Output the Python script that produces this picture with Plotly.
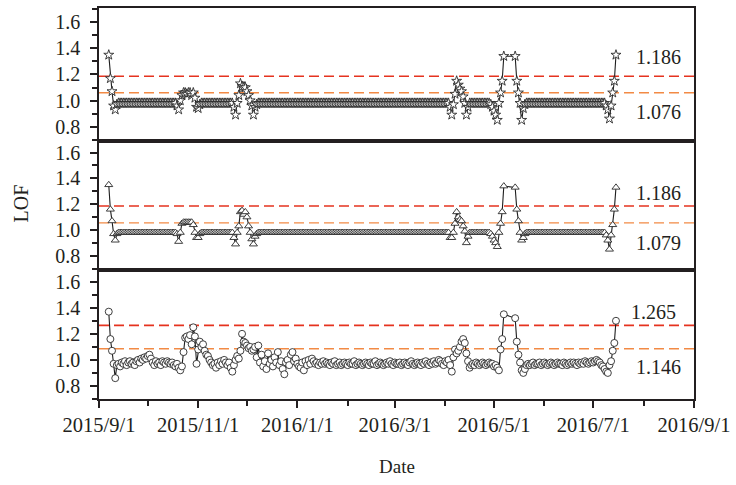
import pandas as pd
import plotly.graph_objects as go
from plotly.subplots import make_subplots

# ---------------- data ----------------
start_date = "2015-09-07"
end_date = "2016-07-15"
gap_first, gap_last = "2016-05-08", "2016-05-13"   # days without records

lof_star = [
    1.35, 1.17, 1.07, 0.96, 0.93, 0.97, 0.98, 0.98, 0.98, 0.98,
    0.98, 0.98, 0.98, 0.98, 0.98, 0.98, 0.98, 0.98, 0.98, 0.98,
    0.98, 0.98, 0.98, 0.98, 0.98, 0.98, 0.98, 0.98, 0.98, 0.98,
    0.98, 0.98, 0.98, 0.98, 0.98, 0.98, 0.98, 0.98, 0.98, 0.98,
    0.98, 0.98, 0.96, 0.93, 1.00, 1.04, 1.06, 1.06, 1.05, 1.06,
    1.06, 1.04, 1.06, 1.02, 0.95, 0.94, 0.97, 0.98, 0.98, 0.98,
    0.98, 0.98, 0.98, 0.98, 0.98, 0.98, 0.98, 0.98, 0.98, 0.98,
    0.98, 0.98, 0.98, 0.98, 0.98, 0.98, 0.98, 0.95, 0.89, 0.98,
    1.04, 1.13, 1.11, 1.10, 1.10, 1.07, 1.04, 1.00, 0.96, 0.89,
    0.95, 0.97, 0.98, 0.98, 0.98, 0.98, 0.98, 0.98, 0.98, 0.98,
    0.98, 0.98, 0.98, 0.98, 0.98, 0.98, 0.98, 0.98, 0.98, 0.98,
    0.98, 0.98, 0.98, 0.98, 0.98, 0.98, 0.98, 0.98, 0.98, 0.98,
    0.98, 0.98, 0.98, 0.98, 0.98, 0.98, 0.98, 0.98, 0.98, 0.98,
    0.98, 0.98, 0.98, 0.98, 0.98, 0.98, 0.98, 0.98, 0.98, 0.98,
    0.98, 0.98, 0.98, 0.98, 0.98, 0.98, 0.98, 0.98, 0.98, 0.98,
    0.98, 0.98, 0.98, 0.98, 0.98, 0.98, 0.98, 0.98, 0.98, 0.98,
    0.98, 0.98, 0.98, 0.98, 0.98, 0.98, 0.98, 0.98, 0.98, 0.98,
    0.98, 0.98, 0.98, 0.98, 0.98, 0.98, 0.98, 0.98, 0.98, 0.98,
    0.98, 0.98, 0.98, 0.98, 0.98, 0.98, 0.98, 0.98, 0.98, 0.98,
    0.98, 0.98, 0.98, 0.98, 0.98, 0.98, 0.98, 0.98, 0.98, 0.98,
    0.98, 0.98, 0.98, 0.98, 0.98, 0.98, 0.98, 0.98, 0.98, 0.98,
    0.95, 0.89, 0.97, 1.05, 1.15, 1.12, 1.09, 1.07, 1.03, 0.98,
    0.89, 0.95, 0.98, 0.98, 0.98, 0.98, 0.98, 0.98, 0.98, 0.98,
    0.98, 0.98, 0.98, 0.98, 0.98, 0.97, 0.95, 0.92, 0.89, 0.85,
    0.98, 1.06, 1.15, 1.34,
    1.34, 1.15, 1.06, 0.98, 0.85, 0.94, 0.97, 0.98, 0.98, 0.98,
    0.98, 0.98, 0.98, 0.98, 0.98, 0.98, 0.98, 0.98, 0.98, 0.98,
    0.98, 0.98, 0.98, 0.98, 0.98, 0.98, 0.98, 0.98, 0.98, 0.98,
    0.98, 0.98, 0.98, 0.98, 0.98, 0.98, 0.98, 0.98, 0.98, 0.98,
    0.98, 0.98, 0.98, 0.98, 0.98, 0.98, 0.98, 0.98, 0.98, 0.98,
    0.98, 0.98, 0.98, 0.98, 0.98, 0.98, 0.96, 0.93, 0.86, 0.96,
    1.06, 1.15, 1.35,
]

lof_triangle = [
    1.35, 1.16, 1.07, 0.97, 0.92, 0.97, 0.98, 0.98, 0.98, 0.98,
    0.98, 0.98, 0.98, 0.98, 0.98, 0.98, 0.98, 0.98, 0.98, 0.98,
    0.98, 0.98, 0.98, 0.98, 0.98, 0.98, 0.98, 0.98, 0.98, 0.98,
    0.98, 0.98, 0.98, 0.98, 0.98, 0.98, 0.98, 0.98, 0.98, 0.98,
    0.98, 0.98, 0.97, 0.91, 0.98, 1.05, 1.06, 1.06, 1.06, 1.06,
    1.06, 1.06, 1.04, 0.98, 0.94, 0.94, 0.97, 0.98, 0.98, 0.98,
    0.98, 0.98, 0.98, 0.98, 0.98, 0.98, 0.98, 0.98, 0.98, 0.98,
    0.98, 0.98, 0.98, 0.98, 0.98, 0.98, 0.98, 0.94, 0.89, 0.98,
    1.03, 1.14, 1.15, 1.12, 1.14, 1.10, 1.03, 0.98, 0.93, 0.89,
    0.95, 0.97, 0.98, 0.98, 0.98, 0.98, 0.98, 0.98, 0.98, 0.98,
    0.98, 0.98, 0.98, 0.98, 0.98, 0.98, 0.98, 0.98, 0.98, 0.98,
    0.98, 0.98, 0.98, 0.98, 0.98, 0.98, 0.98, 0.98, 0.98, 0.98,
    0.98, 0.98, 0.98, 0.98, 0.98, 0.98, 0.98, 0.98, 0.98, 0.98,
    0.98, 0.98, 0.98, 0.98, 0.98, 0.98, 0.98, 0.98, 0.98, 0.98,
    0.98, 0.98, 0.98, 0.98, 0.98, 0.98, 0.98, 0.98, 0.98, 0.98,
    0.98, 0.98, 0.98, 0.98, 0.98, 0.98, 0.98, 0.98, 0.98, 0.98,
    0.98, 0.98, 0.98, 0.98, 0.98, 0.98, 0.98, 0.98, 0.98, 0.98,
    0.98, 0.98, 0.98, 0.98, 0.98, 0.98, 0.98, 0.98, 0.98, 0.98,
    0.98, 0.98, 0.98, 0.98, 0.98, 0.98, 0.98, 0.98, 0.98, 0.98,
    0.98, 0.98, 0.98, 0.98, 0.98, 0.98, 0.98, 0.98, 0.98, 0.98,
    0.98, 0.98, 0.98, 0.98, 0.98, 0.98, 0.98, 0.98, 0.98, 0.98,
    0.94, 0.94, 0.98, 1.05, 1.14, 1.10, 1.08, 1.07, 1.03, 0.99,
    0.90, 0.95, 0.98, 0.98, 0.98, 0.98, 0.98, 0.98, 0.98, 0.98,
    0.98, 0.98, 0.98, 0.98, 0.98, 0.97, 0.95, 0.92, 0.90, 0.87,
    0.98, 1.05, 1.14, 1.34,
    1.33, 1.16, 1.07, 0.98, 0.92, 0.94, 0.97, 0.98, 0.98, 0.98,
    0.98, 0.98, 0.98, 0.98, 0.98, 0.98, 0.98, 0.98, 0.98, 0.98,
    0.98, 0.98, 0.98, 0.98, 0.98, 0.98, 0.98, 0.98, 0.98, 0.98,
    0.98, 0.98, 0.98, 0.98, 0.98, 0.98, 0.98, 0.98, 0.98, 0.98,
    0.98, 0.98, 0.98, 0.98, 0.98, 0.98, 0.98, 0.98, 0.98, 0.98,
    0.98, 0.98, 0.98, 0.98, 0.98, 0.98, 0.96, 0.92, 0.85, 0.96,
    1.04, 1.16, 1.33,
]

lof_circle = [
    1.37, 1.16, 1.07, 0.97, 0.86, 0.96, 0.97, 0.95, 0.98, 0.97,
    0.99, 0.96, 0.98, 0.99, 0.97, 0.98, 0.96, 0.99, 1.00, 0.98,
    1.01, 1.00, 1.02, 1.01, 1.03, 1.04, 1.01, 0.98, 0.96, 0.99,
    0.97, 0.98, 0.96, 0.99, 0.98, 0.97, 0.99, 0.98, 0.97, 0.98,
    0.96, 0.95, 0.97, 0.94, 0.92, 0.95, 1.06, 1.17, 1.18, 1.16,
    1.19, 1.12, 1.25, 1.18, 0.97, 1.08, 1.14, 1.10, 1.12, 1.07,
    1.04, 1.03, 1.00, 0.98, 0.96, 0.97, 0.94, 0.98, 0.96, 0.99,
    0.97, 1.00, 0.98, 0.96, 0.98, 0.94, 0.91, 0.96, 1.00, 1.03,
    1.01, 1.07, 1.20, 1.14, 1.13, 1.11, 1.09, 1.10, 1.07, 1.08,
    1.10, 1.02, 1.11, 0.98, 1.04, 0.95, 0.99, 0.93, 1.05, 0.97,
    1.00, 0.95, 1.02, 0.98, 1.06, 0.96, 0.99, 0.93, 0.89, 0.98,
    1.00, 0.96, 1.04, 1.06, 0.99, 1.01, 0.97, 0.95, 0.94, 0.98,
    0.92, 0.99, 0.96, 1.00, 0.97, 1.01, 0.99, 0.97, 0.98, 0.96,
    0.98, 0.97, 0.99, 0.97, 0.98, 0.97, 0.96, 0.98, 0.97, 0.99,
    0.96, 0.97, 0.98, 0.96, 0.97, 0.98, 0.97, 0.96, 0.98, 0.97,
    0.97, 0.99, 0.96, 0.97, 0.98, 0.97, 0.96, 0.97, 0.98, 0.97,
    0.96, 0.98, 0.97, 0.97, 0.99, 0.96, 0.97, 0.98, 0.97, 0.96,
    0.97, 0.98, 0.97, 0.99, 0.97, 0.96, 0.98, 0.97, 0.97, 0.98,
    0.96, 0.97, 0.98, 0.97, 0.96, 0.98, 0.99, 0.97, 0.96, 0.97,
    0.98, 0.97, 0.96, 0.98, 0.97, 0.99, 0.97, 0.96, 0.98, 0.97,
    0.99, 0.97, 0.98, 1.00, 0.99, 0.97, 0.96, 0.99, 0.98, 1.00,
    0.96, 0.91, 1.02, 1.08, 1.05, 1.07, 1.10, 1.14, 1.16, 1.13,
    1.05, 0.99, 0.94, 0.96, 0.97, 0.96, 0.98, 0.97, 0.96, 0.97,
    0.98, 0.97, 0.96, 0.97, 0.98, 0.97, 0.97, 0.95, 0.96, 0.94,
    0.92, 1.08, 1.16, 1.35,
    1.32, 1.14, 1.04, 0.98, 0.92, 0.90, 0.93, 0.96, 0.97, 0.96,
    0.97, 0.98, 0.96, 0.97, 0.97, 0.98, 0.96, 0.97, 0.98, 0.97,
    0.96, 0.97, 0.98, 0.97, 0.96, 0.97, 0.98, 0.97, 0.97, 0.96,
    0.98, 0.97, 0.96, 0.97, 0.98, 0.97, 0.98, 0.97, 0.96, 0.98,
    0.97, 0.98, 0.97, 0.99, 0.98, 0.97, 0.98, 0.99, 0.98, 0.99,
    1.00, 0.99, 0.98, 0.96, 0.95, 0.93, 0.91, 0.90, 0.96, 0.99,
    1.07, 1.13, 1.30,
]

upper_limits = [1.186, 1.186, 1.265]
lower_lines = [1.06, 1.055, 1.085]
upper_labels = ["1.186", "1.186", "1.265"]
lower_labels = ["1.076", "1.079", "1.146"]

x_tick_vals = ["2015-09-01", "2015-11-01", "2016-01-01", "2016-03-01",
               "2016-05-01", "2016-07-01", "2016-09-01"]
x_tick_text = ["2015/9/1", "2015/11/1", "2016/1/1", "2016/3/1",
               "2016/5/1", "2016/7/1", "2016/9/1"]
y_tick_vals = [0.8, 1.0, 1.2, 1.4, 1.6]
y_tick_text = ["0.8", "1.0", "1.2", "1.4", "1.6"]

# ---------------- figure ----------------
all_days = pd.date_range(start_date, end_date, freq="D")
dates = all_days[(all_days < pd.Timestamp(gap_first)) | (all_days > pd.Timestamp(gap_last))]

series = [lof_star, lof_triangle, lof_circle]
symbols = ["star", "triangle-up", "circle"]
sizes = [7.5, 7, 7]

FONT = "Liberation Serif"
INK = "#231f20"

fig = make_subplots(rows=3, cols=1, shared_xaxes=True, vertical_spacing=0)

for i, (vals, sym, sz) in enumerate(zip(series, symbols, sizes), start=1):
    n = min(len(vals), len(dates))
    fig.add_trace(go.Scatter(
        x=dates[:n], y=vals[:n], mode="lines+markers",
        line=dict(color="#1e1e1e", width=1.1),
        marker=dict(symbol=sym, size=sz, color="white",
                    line=dict(color="#2a2a2a", width=0.9)),
        hoverinfo="skip", showlegend=False), row=i, col=1)
    fig.add_hline(y=upper_limits[i - 1], row=i, col=1,
                  line=dict(color="#e5331f", width=1.6, dash="10px,5px"), layer="below")
    fig.add_hline(y=lower_lines[i - 1], row=i, col=1,
                  line=dict(color="#f28a45", width=1.4, dash="10px,5px"), layer="below")

domains = [[0.660, 1.0], [0.330, 0.660], [0.0, 0.330]]
yranges = [[0.69, 1.71], [0.69, 1.69], [0.70, 1.69]]

for i in range(1, 4):
    yk = "yaxis" if i == 1 else f"yaxis{i}"
    fig.layout[yk].update(
        domain=domains[i - 1], range=yranges[i - 1],
        tickmode="array", tickvals=y_tick_vals, ticktext=y_tick_text,
        ticks="outside", ticklen=7, tickwidth=1.5, tickcolor=INK,
        minor=dict(tick0=0.7, dtick=0.1, ticks="outside", ticklen=5,
                   tickwidth=1.5, tickcolor=INK),
        showline=True, linecolor=INK, linewidth=1.6, mirror=True,
        showgrid=False, zeroline=False, ticklabelstandoff=6,
        tickfont=dict(family=FONT, size=20, color=INK))
    xk = "xaxis" if i == 1 else f"xaxis{i}"
    fig.layout[xk].update(
        range=["2015-09-01", "2016-09-01"], type="date",
        showline=True, linecolor=INK, linewidth=1.6, mirror=True,
        showgrid=False, zeroline=False)
    if i < 3:
        fig.layout[xk].update(ticks="", showticklabels=False)
    else:
        fig.layout[xk].update(
            tickmode="array", tickvals=x_tick_vals, ticktext=x_tick_text,
            ticks="outside", ticklen=7, tickwidth=1.5, tickcolor=INK,
            minor=dict(tick0="2015-09-01", dtick="M1", ticks="outside",
                       ticklen=5, tickwidth=1.5, tickcolor=INK),
            ticklabelstandoff=0,
            tickfont=dict(family=FONT, size=20.5, color=INK))

# threshold value labels
label_pos = [(0.941, 0.874, 0.941, 0.734),
             (0.941, 0.528, 0.941, 0.400),
             (0.932, 0.222, 0.940, 0.082)]
for i, (xu, yu, xl, yl) in enumerate(label_pos):
    fig.add_annotation(x=xu, y=yu, xref="paper", yref="paper", text=upper_labels[i],
                       showarrow=False, xanchor="center", yanchor="middle",
                       font=dict(family=FONT, size=20, color=INK))
    fig.add_annotation(x=xl, y=yl, xref="paper", yref="paper", text=lower_labels[i],
                       showarrow=False, xanchor="center", yanchor="middle",
                       font=dict(family=FONT, size=20, color=INK))

fig.add_annotation(x=-0.1305, y=0.501, xref="paper", yref="paper", text="LOF",
                   textangle=-90, showarrow=False, xanchor="center", yanchor="middle",
                   font=dict(family=FONT, size=20, color=INK))
fig.add_annotation(x=0.5, y=-0.172, xref="paper", yref="paper", text="Date",
                   showarrow=False, xanchor="center", yanchor="middle",
                   font=dict(family=FONT, size=19, color=INK))

fig.update_layout(
    width=736, height=485,
    margin=dict(l=99, r=39, t=6, b=86),
    paper_bgcolor="white", plot_bgcolor="white",
    showlegend=False, hovermode=False,
    font=dict(family=FONT, color=INK),
)

fig.write_html("out.html",
               config={"displayModeBar": False},
               post_script="document.body.style.margin='0px';document.body.style.padding='0px';")
